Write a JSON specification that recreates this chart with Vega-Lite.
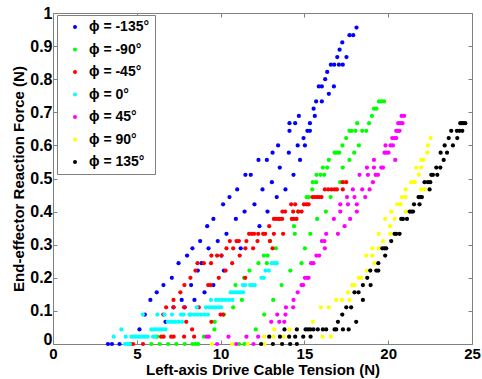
{
"$schema":"https://vega.github.io/schema/vega-lite/v6.json",
"width":419,"height":331,
"autosize":{"type":"none"},
"padding":{"left":53,"top":13,"right":10,"bottom":35},
"background":"white",
"config":{"view":{"stroke":null},"font":"Liberation Sans",
"axis":{"grid":false,"domainColor":"#808080","tickColor":"#808080","tickSize":-4,"labelColor":"#000000","labelFontSize":15,"labelFontWeight":"bold","titleColor":"#000000","titleFontSize":15,"titleFontWeight":"bold","labelFlush":false,"labelOverlap":false}},
"data":{"values":[
{"s":"-135","x":3.28,"y":0},{"s":"-135","x":3.52,"y":0},{"s":"-135","x":3.97,"y":0},
{"s":"-135","x":5.16,"y":0.044},{"s":"-135","x":6.71,"y":0.067},{"s":"-135","x":5.48,"y":0.089},
{"s":"-135","x":7.19,"y":0.111},{"s":"-135","x":7.86,"y":0.111},
{"s":"-135","x":5.81,"y":0.133},{"s":"-135","x":7.68,"y":0.133},{"s":"-135","x":8.44,"y":0.133},
{"s":"-135","x":6.19,"y":0.156},{"s":"-135","x":9.04,"y":0.156},
{"s":"-135","x":6.59,"y":0.178},{"s":"-135","x":8.24,"y":0.178},{"s":"-135","x":9.57,"y":0.178},
{"s":"-135","x":7.09,"y":0.2},
{"s":"-135","x":8.64,"y":0.222},{"s":"-135","x":10.2,"y":0.222},
{"s":"-135","x":7.49,"y":0.244},{"s":"-135","x":8.86,"y":0.244},
{"s":"-135","x":8.0,"y":0.267},{"s":"-135","x":10.05,"y":0.267},
{"s":"-135","x":8.32,"y":0.289},{"s":"-135","x":9.28,"y":0.289},{"s":"-135","x":11.2,"y":0.289},
{"s":"-135","x":8.78,"y":0.311},{"s":"-135","x":9.83,"y":0.311},
{"s":"-135","x":10.35,"y":0.333},
{"s":"-135","x":9.2,"y":0.356},{"s":"-135","x":12.32,"y":0.356},
{"s":"-135","x":9.57,"y":0.378},{"s":"-135","x":10.91,"y":0.378},
{"s":"-135","x":11.43,"y":0.4},{"s":"-135","x":12.8,"y":0.4},
{"s":"-135","x":10.15,"y":0.422},{"s":"-135","x":12.02,"y":0.422},
{"s":"-135","x":10.53,"y":0.444},{"s":"-135","x":13.35,"y":0.444},
{"s":"-135","x":10.99,"y":0.467},{"s":"-135","x":12.5,"y":0.467},{"s":"-135","x":13.87,"y":0.467},
{"s":"-135","x":13.06,"y":0.489},
{"s":"-135","x":11.48,"y":0.511},{"s":"-135","x":11.8,"y":0.511},{"s":"-135","x":14.35,"y":0.511},
{"s":"-135","x":13.53,"y":0.533},
{"s":"-135","x":12.26,"y":0.556},{"s":"-135","x":12.76,"y":0.556},{"s":"-135","x":14.74,"y":0.556},
{"s":"-135","x":13.1,"y":0.578},{"s":"-135","x":14.07,"y":0.578},
{"s":"-135","x":13.43,"y":0.6},{"s":"-135","x":14.6,"y":0.6},{"s":"-135","x":15.03,"y":0.6},
{"s":"-135","x":14.95,"y":0.622},
{"s":"-135","x":14.11,"y":0.644},{"s":"-135","x":15.18,"y":0.644},{"s":"-135","x":15.33,"y":0.644},
{"s":"-135","x":14.11,"y":0.667},{"s":"-135","x":14.45,"y":0.667},{"s":"-135","x":15.33,"y":0.667},
{"s":"-135","x":14.67,"y":0.689},{"s":"-135","x":15.62,"y":0.689},
{"s":"-135","x":15.55,"y":0.711},
{"s":"-135","x":15.7,"y":0.733},{"s":"-135","x":16.04,"y":0.733},
{"s":"-135","x":16.46,"y":0.756},
{"s":"-135","x":15.86,"y":0.778},{"s":"-135","x":16.04,"y":0.778},{"s":"-135","x":16.76,"y":0.778},
{"s":"-135","x":16.24,"y":0.8},{"s":"-135","x":16.36,"y":0.822},
{"s":"-135","x":16.58,"y":0.844},{"s":"-135","x":16.78,"y":0.844},{"s":"-135","x":17.06,"y":0.844},{"s":"-135","x":17.29,"y":0.844},
{"s":"-135","x":16.96,"y":0.867},{"s":"-135","x":17.51,"y":0.867},
{"s":"-135","x":17.1,"y":0.889},{"s":"-135","x":17.26,"y":0.911},
{"s":"-135","x":17.69,"y":0.933},{"s":"-135","x":17.91,"y":0.933},{"s":"-135","x":18.11,"y":0.956},

{"s":"-90","x":4.64,"y":0},{"s":"-90","x":5.87,"y":0},{"s":"-90","x":6.37,"y":0},{"s":"-90","x":6.87,"y":0},{"s":"-90","x":7.36,"y":0},{"s":"-90","x":7.86,"y":0},{"s":"-90","x":8.32,"y":0},{"s":"-90","x":8.5,"y":0},{"s":"-90","x":8.66,"y":0},{"s":"-90","x":11.1,"y":0},{"s":"-90","x":11.42,"y":0},
{"s":"-90","x":6.21,"y":0.022},{"s":"-90","x":9.0,"y":0.022},
{"s":"-90","x":9.63,"y":0.044},{"s":"-90","x":12.1,"y":0.044},
{"s":"-90","x":9.65,"y":0.067},
{"s":"-90","x":10.2,"y":0.089},{"s":"-90","x":12.6,"y":0.089},
{"s":"-90","x":10.75,"y":0.111},
{"s":"-90","x":11.27,"y":0.133},{"s":"-90","x":13.14,"y":0.133},
{"s":"-90","x":10.89,"y":0.178},{"s":"-90","x":13.64,"y":0.178},
{"s":"-90","x":11.4,"y":0.2},
{"s":"-90","x":11.72,"y":0.222},{"s":"-90","x":14.16,"y":0.222},
{"s":"-90","x":12.26,"y":0.244},{"s":"-90","x":12.76,"y":0.244},{"s":"-90","x":14.83,"y":0.244},
{"s":"-90","x":12.58,"y":0.267},{"s":"-90","x":12.8,"y":0.267},
{"s":"-90","x":13.3,"y":0.289},{"s":"-90","x":15.03,"y":0.289},
{"s":"-90","x":12.96,"y":0.311},
{"s":"-90","x":14.43,"y":0.333},{"s":"-90","x":15.35,"y":0.333},
{"s":"-90","x":14.38,"y":0.356},
{"s":"-90","x":15.76,"y":0.378},
{"s":"-90","x":14.63,"y":0.4},{"s":"-90","x":16.28,"y":0.4},
{"s":"-90","x":15.13,"y":0.444},{"s":"-90","x":15.27,"y":0.444},{"s":"-90","x":16.56,"y":0.444},
{"s":"-90","x":15.47,"y":0.467},
{"s":"-90","x":15.5,"y":0.489},{"s":"-90","x":15.7,"y":0.489},{"s":"-90","x":17.13,"y":0.489},
{"s":"-90","x":15.72,"y":0.511},{"s":"-90","x":15.96,"y":0.511},{"s":"-90","x":16.18,"y":0.511},
{"s":"-90","x":16.1,"y":0.533},{"s":"-90","x":16.36,"y":0.533},{"s":"-90","x":17.29,"y":0.533},
{"s":"-90","x":16.46,"y":0.556},{"s":"-90","x":17.69,"y":0.556},
{"s":"-90","x":16.8,"y":0.578},{"s":"-90","x":16.94,"y":0.578},{"s":"-90","x":17.08,"y":0.578},{"s":"-90","x":17.97,"y":0.578},
{"s":"-90","x":17.27,"y":0.6},{"s":"-90","x":18.25,"y":0.6},
{"s":"-90","x":17.49,"y":0.622},
{"s":"-90","x":17.69,"y":0.644},{"s":"-90","x":17.83,"y":0.644},{"s":"-90","x":18.05,"y":0.644},{"s":"-90","x":18.45,"y":0.644},{"s":"-90","x":18.69,"y":0.644},
{"s":"-90","x":18.15,"y":0.667},{"s":"-90","x":18.86,"y":0.667},
{"s":"-90","x":19.03,"y":0.689},
{"s":"-90","x":19.15,"y":0.711},{"s":"-90","x":19.3,"y":0.711},
{"s":"-90","x":19.45,"y":0.733},{"s":"-90","x":19.6,"y":0.733},{"s":"-90","x":19.75,"y":0.733},

{"s":"-45","x":4.78,"y":0},{"s":"-45","x":5.37,"y":0},
{"s":"-45","x":6.45,"y":0.022},{"s":"-45","x":6.6,"y":0.022},{"s":"-45","x":7.05,"y":0.022},{"s":"-45","x":7.2,"y":0.022},{"s":"-45","x":7.82,"y":0.022},{"s":"-45","x":8.42,"y":0.022},
{"s":"-45","x":8.3,"y":0.044},
{"s":"-45","x":7.95,"y":0.067},{"s":"-45","x":9.45,"y":0.067},
{"s":"-45","x":6.58,"y":0.089},{"s":"-45","x":10.0,"y":0.089},{"s":"-45","x":10.15,"y":0.089},
{"s":"-45","x":6.75,"y":0.111},{"s":"-45","x":7.19,"y":0.111},{"s":"-45","x":7.82,"y":0.111},{"s":"-45","x":8.7,"y":0.111},
{"s":"-45","x":7.19,"y":0.133},
{"s":"-45","x":7.6,"y":0.156},
{"s":"-45","x":7.84,"y":0.178},{"s":"-45","x":9.26,"y":0.178},{"s":"-45","x":9.4,"y":0.178},
{"s":"-45","x":8.2,"y":0.2},{"s":"-45","x":9.89,"y":0.2},{"s":"-45","x":11.47,"y":0.2},
{"s":"-45","x":8.5,"y":0.222},{"s":"-45","x":10.3,"y":0.222},
{"s":"-45","x":8.62,"y":0.244},{"s":"-45","x":9.0,"y":0.244},{"s":"-45","x":9.43,"y":0.244},{"s":"-45","x":10.69,"y":0.244},
{"s":"-45","x":9.45,"y":0.267},{"s":"-45","x":9.79,"y":0.267},{"s":"-45","x":10.05,"y":0.267},{"s":"-45","x":11.14,"y":0.267},
{"s":"-45","x":10.35,"y":0.289},{"s":"-45","x":10.75,"y":0.289},{"s":"-45","x":11.48,"y":0.289},{"s":"-45","x":11.94,"y":0.289},{"s":"-45","x":13.1,"y":0.289},
{"s":"-45","x":10.55,"y":0.311},{"s":"-45","x":10.95,"y":0.311},{"s":"-45","x":11.09,"y":0.311},{"s":"-45","x":11.54,"y":0.311},{"s":"-45","x":12.2,"y":0.311},{"s":"-45","x":12.94,"y":0.311},
{"s":"-45","x":11.7,"y":0.333},{"s":"-45","x":11.86,"y":0.333},{"s":"-45","x":12.0,"y":0.333},{"s":"-45","x":12.24,"y":0.333},{"s":"-45","x":12.54,"y":0.333},{"s":"-45","x":12.66,"y":0.333},{"s":"-45","x":13.18,"y":0.333},{"s":"-45","x":13.73,"y":0.333},
{"s":"-45","x":12.9,"y":0.356},
{"s":"-45","x":13.18,"y":0.378},{"s":"-45","x":13.3,"y":0.378},{"s":"-45","x":13.44,"y":0.378},{"s":"-45","x":13.54,"y":0.378},{"s":"-45","x":13.67,"y":0.378},{"s":"-45","x":14.25,"y":0.378},{"s":"-45","x":14.37,"y":0.378},{"s":"-45","x":14.53,"y":0.378},
{"s":"-45","x":13.69,"y":0.4},{"s":"-45","x":13.85,"y":0.4},{"s":"-45","x":14.33,"y":0.4},{"s":"-45","x":14.63,"y":0.4},{"s":"-45","x":14.83,"y":0.4},
{"s":"-45","x":14.21,"y":0.422},{"s":"-45","x":14.45,"y":0.422},{"s":"-45","x":14.97,"y":0.422},{"s":"-45","x":15.13,"y":0.422},{"s":"-45","x":15.25,"y":0.422},
{"s":"-45","x":15.49,"y":0.444},{"s":"-45","x":15.63,"y":0.444},{"s":"-45","x":15.76,"y":0.444},{"s":"-45","x":15.88,"y":0.444},{"s":"-45","x":16.02,"y":0.444},
{"s":"-45","x":16.22,"y":0.467},{"s":"-45","x":16.42,"y":0.467},{"s":"-45","x":16.62,"y":0.467},{"s":"-45","x":16.8,"y":0.467},{"s":"-45","x":16.94,"y":0.467},{"s":"-45","x":17.29,"y":0.467},
{"s":"-45","x":17.29,"y":0.489},{"s":"-45","x":17.49,"y":0.489},

{"s":"0","x":4.3,"y":0},{"s":"0","x":4.44,"y":0},{"s":"0","x":4.58,"y":0},
{"s":"0","x":3.62,"y":0.022},{"s":"0","x":4.34,"y":0.022},{"s":"0","x":4.68,"y":0.022},{"s":"0","x":4.82,"y":0.022},{"s":"0","x":4.96,"y":0.022},{"s":"0","x":5.1,"y":0.022},{"s":"0","x":5.24,"y":0.022},{"s":"0","x":5.37,"y":0.022},{"s":"0","x":5.51,"y":0.022},{"s":"0","x":5.65,"y":0.022},{"s":"0","x":5.97,"y":0.022},{"s":"0","x":6.09,"y":0.022},
{"s":"0","x":4.08,"y":0.044},{"s":"0","x":5.87,"y":0.044},{"s":"0","x":6.01,"y":0.044},{"s":"0","x":6.15,"y":0.044},{"s":"0","x":6.29,"y":0.044},{"s":"0","x":6.43,"y":0.044},{"s":"0","x":6.57,"y":0.044},{"s":"0","x":6.71,"y":0.044},
{"s":"0","x":6.85,"y":0.067},{"s":"0","x":7.0,"y":0.067},{"s":"0","x":7.15,"y":0.067},{"s":"0","x":7.3,"y":0.067},{"s":"0","x":7.5,"y":0.067},{"s":"0","x":7.7,"y":0.067},
{"s":"0","x":5.36,"y":0.089},{"s":"0","x":6.23,"y":0.089},{"s":"0","x":6.65,"y":0.089},{"s":"0","x":7.1,"y":0.089},{"s":"0","x":7.64,"y":0.089},{"s":"0","x":7.79,"y":0.089},{"s":"0","x":8.14,"y":0.089},{"s":"0","x":8.24,"y":0.089},{"s":"0","x":8.44,"y":0.089},{"s":"0","x":8.64,"y":0.089},{"s":"0","x":8.84,"y":0.089},{"s":"0","x":9.04,"y":0.089},{"s":"0","x":9.24,"y":0.089},
{"s":"0","x":8.58,"y":0.111},{"s":"0","x":9.13,"y":0.111},{"s":"0","x":9.28,"y":0.111},{"s":"0","x":9.43,"y":0.111},{"s":"0","x":9.58,"y":0.111},{"s":"0","x":9.73,"y":0.111},{"s":"0","x":9.88,"y":0.111},{"s":"0","x":10.03,"y":0.111},
{"s":"0","x":9.43,"y":0.133},{"s":"0","x":9.73,"y":0.133},{"s":"0","x":9.9,"y":0.133},{"s":"0","x":10.1,"y":0.133},{"s":"0","x":10.3,"y":0.133},{"s":"0","x":10.5,"y":0.133},{"s":"0","x":10.7,"y":0.133},
{"s":"0","x":10.6,"y":0.156},{"s":"0","x":10.75,"y":0.156},{"s":"0","x":10.9,"y":0.156},{"s":"0","x":11.05,"y":0.156},{"s":"0","x":11.2,"y":0.156},{"s":"0","x":11.35,"y":0.156},
{"s":"0","x":11.33,"y":0.178},{"s":"0","x":11.46,"y":0.178},{"s":"0","x":11.76,"y":0.178},{"s":"0","x":11.9,"y":0.178},{"s":"0","x":12.04,"y":0.178},
{"s":"0","x":12.44,"y":0.2},{"s":"0","x":12.58,"y":0.2},
{"s":"0","x":12.68,"y":0.222},{"s":"0","x":12.88,"y":0.222},
{"s":"0","x":13.05,"y":0.244},{"s":"0","x":13.2,"y":0.244},{"s":"0","x":13.35,"y":0.244},

{"s":"45","x":9.79,"y":0},{"s":"45","x":10.93,"y":0},{"s":"45","x":11.96,"y":0},
{"s":"45","x":9.16,"y":0.022},{"s":"45","x":9.3,"y":0.022},{"s":"45","x":10.47,"y":0.022},{"s":"45","x":11.54,"y":0.022},{"s":"45","x":12.24,"y":0.022},
{"s":"45","x":13.02,"y":0.067},{"s":"45","x":13.5,"y":0.067},{"s":"45","x":13.8,"y":0.067},
{"s":"45","x":13.38,"y":0.089},{"s":"45","x":13.87,"y":0.089},
{"s":"45","x":13.9,"y":0.111},{"s":"45","x":14.33,"y":0.111},
{"s":"45","x":14.35,"y":0.133},{"s":"45","x":14.6,"y":0.156},
{"s":"45","x":14.83,"y":0.178},{"s":"45","x":14.93,"y":0.178},
{"s":"45","x":15.03,"y":0.2},{"s":"45","x":15.15,"y":0.2},{"s":"45","x":15.25,"y":0.2},
{"s":"45","x":15.4,"y":0.244},{"s":"45","x":15.54,"y":0.244},
{"s":"45","x":15.72,"y":0.267},{"s":"45","x":15.88,"y":0.267},
{"s":"45","x":16.22,"y":0.289},
{"s":"45","x":16.04,"y":0.311},{"s":"45","x":16.2,"y":0.311},
{"s":"45","x":16.3,"y":0.333},{"s":"45","x":17.0,"y":0.333},
{"s":"45","x":17.4,"y":0.356},
{"s":"45","x":16.76,"y":0.378},{"s":"45","x":17.73,"y":0.378},
{"s":"45","x":17.14,"y":0.4},{"s":"45","x":18.13,"y":0.4},
{"s":"45","x":17.14,"y":0.422},{"s":"45","x":17.6,"y":0.422},{"s":"45","x":18.13,"y":0.422},
{"s":"45","x":17.54,"y":0.444},{"s":"45","x":17.99,"y":0.444},{"s":"45","x":18.63,"y":0.444},
{"s":"45","x":17.89,"y":0.467},{"s":"45","x":18.45,"y":0.467},{"s":"45","x":18.89,"y":0.467},
{"s":"45","x":19.09,"y":0.489},
{"s":"45","x":18.29,"y":0.511},{"s":"45","x":18.79,"y":0.511},{"s":"45","x":19.25,"y":0.511},{"s":"45","x":19.39,"y":0.511},
{"s":"45","x":18.73,"y":0.533},{"s":"45","x":19.15,"y":0.533},{"s":"45","x":19.59,"y":0.533},{"s":"45","x":19.69,"y":0.533},
{"s":"45","x":19.15,"y":0.556},{"s":"45","x":20.42,"y":0.556},
{"s":"45","x":19.78,"y":0.578},{"s":"45","x":19.88,"y":0.578},{"s":"45","x":20.02,"y":0.578},
{"s":"45","x":19.84,"y":0.6},{"s":"45","x":20.14,"y":0.6},{"s":"45","x":20.28,"y":0.6},
{"s":"45","x":20.24,"y":0.622},{"s":"45","x":20.38,"y":0.622},{"s":"45","x":20.48,"y":0.622},
{"s":"45","x":20.48,"y":0.644},{"s":"45","x":20.58,"y":0.644},{"s":"45","x":20.68,"y":0.644},
{"s":"45","x":20.6,"y":0.667},{"s":"45","x":20.72,"y":0.667},{"s":"45","x":20.85,"y":0.667},
{"s":"45","x":20.8,"y":0.689},{"s":"45","x":20.95,"y":0.689},

{"s":"90","x":9.47,"y":0},{"s":"90","x":10.69,"y":0},{"s":"90","x":11.62,"y":0},{"s":"90","x":12.62,"y":0},
{"s":"90","x":12.6,"y":0.022},{"s":"90","x":13.14,"y":0.022},{"s":"90","x":13.75,"y":0.022},{"s":"90","x":14.07,"y":0.022},{"s":"90","x":16.08,"y":0.022},{"s":"90","x":16.58,"y":0.022},
{"s":"90","x":13.2,"y":0.044},{"s":"90","x":14.11,"y":0.044},
{"s":"90","x":15.5,"y":0.067},
{"s":"90","x":15.98,"y":0.111},{"s":"90","x":16.45,"y":0.111},
{"s":"90","x":16.9,"y":0.133},{"s":"90","x":17.24,"y":0.133},{"s":"90","x":17.7,"y":0.133},
{"s":"90","x":17.6,"y":0.156},
{"s":"90","x":17.85,"y":0.178},{"s":"90","x":17.99,"y":0.178},
{"s":"90","x":18.25,"y":0.2},{"s":"90","x":18.39,"y":0.2},
{"s":"90","x":18.73,"y":0.222},
{"s":"90","x":19.17,"y":0.244},
{"s":"90","x":18.69,"y":0.267},{"s":"90","x":19.05,"y":0.267},
{"s":"90","x":19.05,"y":0.289},{"s":"90","x":19.43,"y":0.289},
{"s":"90","x":19.69,"y":0.311},
{"s":"90","x":19.43,"y":0.333},{"s":"90","x":20.12,"y":0.333},
{"s":"90","x":20.1,"y":0.356},
{"s":"90","x":19.82,"y":0.378},{"s":"90","x":20.38,"y":0.378},
{"s":"90","x":20.18,"y":0.4},{"s":"90","x":21.04,"y":0.4},
{"s":"90","x":20.54,"y":0.422},{"s":"90","x":20.74,"y":0.422},
{"s":"90","x":20.82,"y":0.444},{"s":"90","x":21.04,"y":0.444},
{"s":"90","x":21.04,"y":0.467},{"s":"90","x":21.97,"y":0.467},{"s":"90","x":22.17,"y":0.467},
{"s":"90","x":21.38,"y":0.489},{"s":"90","x":21.58,"y":0.489},
{"s":"90","x":21.83,"y":0.511},
{"s":"90","x":21.68,"y":0.533},{"s":"90","x":21.97,"y":0.533},
{"s":"90","x":21.97,"y":0.556},{"s":"90","x":22.11,"y":0.556},
{"s":"90","x":22.33,"y":0.578},{"s":"90","x":22.37,"y":0.6},{"s":"90","x":22.53,"y":0.622},

{"s":"135","x":12.42,"y":0},{"s":"135","x":13.12,"y":0},{"s":"135","x":13.67,"y":0},{"s":"135","x":14.15,"y":0},{"s":"135","x":14.55,"y":0},
{"s":"135","x":12.9,"y":0.022},{"s":"135","x":13.54,"y":0.022},{"s":"135","x":14.09,"y":0.022},{"s":"135","x":14.45,"y":0.022},{"s":"135","x":14.93,"y":0.022},{"s":"135","x":15.37,"y":0.022},
{"s":"135","x":13.81,"y":0.044},{"s":"135","x":14.55,"y":0.044},{"s":"135","x":15.07,"y":0.044},{"s":"135","x":15.21,"y":0.044},{"s":"135","x":15.35,"y":0.044},{"s":"135","x":15.54,"y":0.044},{"s":"135","x":15.8,"y":0.044},{"s":"135","x":16.1,"y":0.044},{"s":"135","x":16.3,"y":0.044},{"s":"135","x":16.8,"y":0.044},{"s":"135","x":16.9,"y":0.044},{"s":"135","x":17.3,"y":0.044},{"s":"135","x":17.64,"y":0.044},
{"s":"135","x":17.0,"y":0.067},{"s":"135","x":18.09,"y":0.067},
{"s":"135","x":17.26,"y":0.089},
{"s":"135","x":17.5,"y":0.111},{"s":"135","x":17.79,"y":0.111},
{"s":"135","x":18.49,"y":0.133},
{"s":"135","x":17.99,"y":0.156},{"s":"135","x":18.23,"y":0.156},
{"s":"135","x":18.49,"y":0.178},{"s":"135","x":18.95,"y":0.178},
{"s":"135","x":18.75,"y":0.2},
{"s":"135","x":18.93,"y":0.222},{"s":"135","x":19.29,"y":0.222},{"s":"135","x":19.41,"y":0.222},
{"s":"135","x":19.41,"y":0.244},
{"s":"135","x":19.82,"y":0.267},
{"s":"135","x":19.65,"y":0.289},{"s":"135","x":19.78,"y":0.289},{"s":"135","x":19.88,"y":0.289},
{"s":"135","x":20.18,"y":0.311},
{"s":"135","x":20.38,"y":0.333},{"s":"135","x":20.48,"y":0.333},{"s":"135","x":20.68,"y":0.333},
{"s":"135","x":20.78,"y":0.378},{"s":"135","x":20.88,"y":0.378},{"s":"135","x":21.12,"y":0.378},
{"s":"135","x":21.28,"y":0.4},{"s":"135","x":21.38,"y":0.4},{"s":"135","x":21.48,"y":0.4},
{"s":"135","x":21.54,"y":0.422},{"s":"135","x":21.87,"y":0.422},
{"s":"135","x":21.81,"y":0.444},{"s":"135","x":21.91,"y":0.444},{"s":"135","x":22.01,"y":0.444},
{"s":"135","x":22.47,"y":0.467},
{"s":"135","x":22.17,"y":0.489},{"s":"135","x":22.37,"y":0.489},{"s":"135","x":22.51,"y":0.489},
{"s":"135","x":22.57,"y":0.511},{"s":"135","x":22.67,"y":0.511},{"s":"135","x":22.93,"y":0.511},
{"s":"135","x":22.87,"y":0.533},{"s":"135","x":23.11,"y":0.533},
{"s":"135","x":23.31,"y":0.556},
{"s":"135","x":23.13,"y":0.578},{"s":"135","x":23.51,"y":0.578},
{"s":"135","x":23.37,"y":0.6},{"s":"135","x":23.86,"y":0.6},
{"s":"135","x":23.61,"y":0.622},{"s":"135","x":24.12,"y":0.622},
{"s":"135","x":23.76,"y":0.644},{"s":"135","x":24.1,"y":0.644},{"s":"135","x":24.26,"y":0.644},{"s":"135","x":24.42,"y":0.644},
{"s":"135","x":24.3,"y":0.667},{"s":"135","x":24.4,"y":0.667},{"s":"135","x":24.5,"y":0.667},{"s":"135","x":24.6,"y":0.667}
]},
"layer":[
{"mark":{"type":"point","filled":true,"size":18,"opacity":1,"strokeWidth":0},
"encoding":{
"x":{"field":"x","type":"quantitative","scale":{"domain":[0,25],"nice":false,"zero":false},
"axis":{"orient":"bottom","values":[0,5,10,15,20,25],"title":"Left-axis Drive Cable Tension (N)","labelPadding":6,"titlePadding":1,"labelFontSize":15}},
"y":{"field":"y","type":"quantitative","scale":{"domain":[0,1],"nice":false,"zero":false},
"axis":{"orient":"left","values":[0,0.1,0.2,0.3,0.4,0.5,0.6,0.7,0.8,0.9,1],"format":".1~f","title":"End-effector Reaction Force (N)","labelPadding":5,"titlePadding":3,"labelFontSize":16,"labelOffset":{"condition":{"test":"datum.value === 0","value":-5},"value":0}}},
"color":{"field":"s","type":"nominal","scale":{"domain":["-135","-90","-45","0","45","90","135"],"range":["#0000ff","#00ff00","#ff0000","#00ffff","#ff00ff","#ffff00","#000000"]},
"legend":{"orient":"none","legendX":4,"legendY":2,"title":null,"labelExpr":"'ϕ = ' + datum.label + '°'","strokeColor":"#808080","fillColor":"#ffffff","padding":5,"rowPadding":8.5,"symbolType":"circle","symbolSize":16,"symbolStrokeWidth":0,"symbolOffset":6,"labelOffset":7,"labelFontSize":14,"labelFontWeight":"bold","labelColor":"#000000"}}}},
{"mark":{"type":"point","opacity":0},
"encoding":{
"x":{"field":"x","type":"quantitative","scale":{"domain":[0,25],"nice":false,"zero":false},"axis":{"orient":"top","values":[0,5,10,15,20,25],"labels":false,"title":null}},
"y":{"field":"y","type":"quantitative","scale":{"domain":[0,1],"nice":false,"zero":false},"axis":{"orient":"right","values":[0,0.1,0.2,0.3,0.4,0.5,0.6,0.7,0.8,0.9,1],"labels":false,"title":null}}}}
],
"resolve":{"axis":{"x":"independent","y":"independent"}}
}
